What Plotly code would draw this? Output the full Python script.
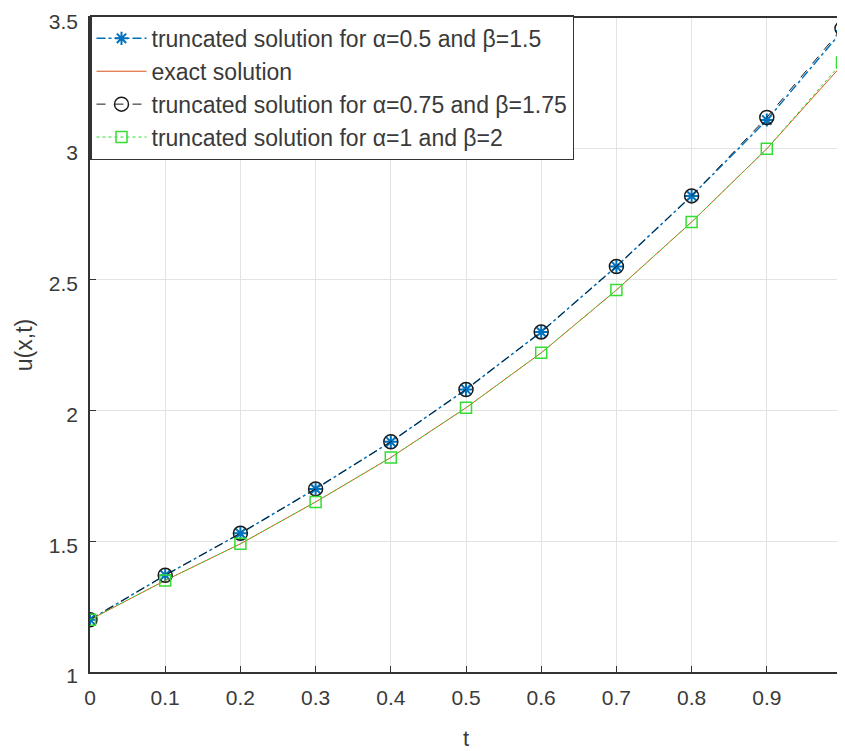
import plotly.graph_objects as go

t = [0, 0.1, 0.2, 0.3, 0.4, 0.5, 0.6, 0.7, 0.8, 0.9, 1.0]
u_a05 = [1.20, 1.37, 1.53, 1.70, 1.88, 2.08, 2.30, 2.55, 2.82, 3.11, 3.45]
u_exact = [1.20, 1.35, 1.49, 1.65, 1.82, 2.01, 2.22, 2.46, 2.72, 3.00, 3.32]
u_a075 = [1.20, 1.37, 1.53, 1.70, 1.88, 2.08, 2.30, 2.55, 2.82, 3.12, 3.46]
u_a1 = [1.20, 1.35, 1.49, 1.65, 1.82, 2.01, 2.22, 2.46, 2.72, 3.00, 3.33]

names = [
    "truncated solution for α=0.5 and β=1.5",
    "exact solution",
    "truncated solution for α=0.75 and β=1.75",
    "truncated solution for α=1 and β=2",
]

x_ticks = [0, 0.1, 0.2, 0.3, 0.4, 0.5, 0.6, 0.7, 0.8, 0.9, 1]
x_ticklabels = ["0", "0.1", "0.2", "0.3", "0.4", "0.5", "0.6", "0.7", "0.8", "0.9", "1"]
y_ticks = [1, 1.5, 2, 2.5, 3, 3.5]
y_ticklabels = ["1", "1.5", "2", "2.5", "3", "3.5"]

FONT = "Liberation Sans, Arial"
TXT = "#3a3a3a"

fig = go.Figure()
fig.add_trace(go.Scatter(
    x=t, y=u_a05, name=names[0], mode="lines+markers",
    line=dict(color="#0072BD", width=1.5, dash="dashdot"),
    marker=dict(symbol="asterisk-open", size=11, color="#0072BD",
                line=dict(color="#0072BD", width=2)),
))
fig.add_trace(go.Scatter(
    x=t, y=u_exact, name=names[1], mode="lines",
    line=dict(color="#D95319", width=1),
))
fig.add_trace(go.Scatter(
    x=t, y=u_a075, name=names[2], mode="lines+markers",
    line=dict(color="#1a1a1a", width=1, dash="dash"),
    marker=dict(symbol="circle-open", size=14, color="#1a1a1a",
                line=dict(color="#1a1a1a", width=1.5)),
))
fig.add_trace(go.Scatter(
    x=t, y=u_a1, name=names[3], mode="lines+markers",
    line=dict(color="#33dd33", width=1, dash="dot"),
    marker=dict(symbol="square-open", size=11, color="#33dd33",
                line=dict(color="#33dd33", width=1.5)),
))

axis_common = dict(
    showgrid=True, gridcolor="#e3e3e3", gridwidth=1,
    showline=True, linecolor="#333333", linewidth=1.5, mirror=True,
    ticks="inside", ticklen=6, tickcolor="#333333",
    tickfont=dict(family=FONT, size=21, color=TXT),
    zeroline=False, automargin=False, ticklabeloverflow="allow",
)

fig.update_layout(
    width=837, height=743,
    margin=dict(l=82, r=3, t=10, b=79, autoexpand=False),
    paper_bgcolor="white", plot_bgcolor="white",
    xaxis=dict(range=[0, 1], tickvals=x_ticks, ticktext=x_ticklabels,
               ticklabelstandoff=6,
               title=dict(text="t", font=dict(family=FONT, size=22, color=TXT), standoff=24),
               **axis_common),
    yaxis=dict(range=[1, 3.5], tickvals=y_ticks, ticktext=y_ticklabels,
               ticklabelstandoff=6, ticklabelshift=4,
               title=dict(text="u(x,t)", font=dict(family=FONT, size=23, color=TXT), standoff=10),
               **axis_common),
    legend=dict(x=0.0, y=1.004, xanchor="left", yanchor="top",
                bgcolor="white", bordercolor="#333333", borderwidth=1.5,
                font=dict(family=FONT, size=23, color=TXT),
                tracegroupgap=0, itemwidth=50),
    showlegend=True,
)

fig.write_html("out.html")
